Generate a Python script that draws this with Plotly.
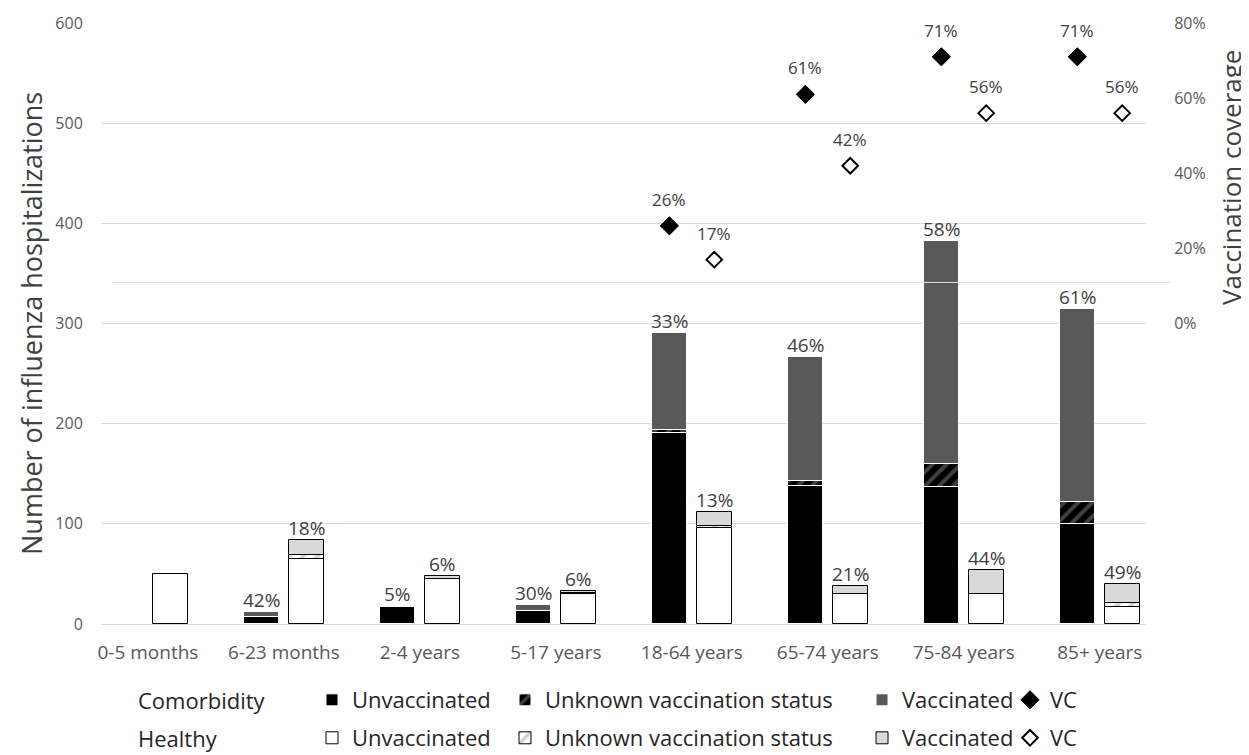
import plotly.graph_objects as go

# ---------------- data ----------------
categories = ["0-5 months", "6-23 months", "2-4 years", "5-17 years",
              "18-64 years", "65-74 years", "75-84 years", "85+ years"]

com_unvacc = [0, 7, 17, 13, 191, 138, 137, 100]
com_unknown = [0, 0, 0, 0, 3, 5, 23, 22]
com_vacc = [0, 5, 1, 6, 97, 124, 222, 192]

hea_unvacc = [50, 65, 45, 30, 96, 30, 30, 17]
hea_unknown = [0, 4, 0, 1, 2, 0, 0, 4]
hea_vacc = [0, 15, 3, 2, 14, 8, 24, 19]

com_bar_labels = ["", "42%", "5%", "30%", "33%", "46%", "58%", "61%"]
hea_bar_labels = ["", "18%", "6%", "6%", "13%", "21%", "44%", "49%"]

vc_categories = ["18-64 years", "65-74 years", "75-84 years", "85+ years"]
com_vc = [0.26, 0.61, 0.71, 0.71]
hea_vc = [0.17, 0.42, 0.56, 0.56]

# ---------------- layout helpers ----------------
W, H = 1249, 755
PAGE = 8  # page body margin offset
ML, MR, MT, MB = 101 - PAGE, 1249 - (1146 - PAGE), 23 - PAGE, 755 - (624 - PAGE)
OFF = 0.165
BW = 0.26
FONT = "Open Sans"
TXT = "#404040"
AX = "#595959"
GRID = "#d9d9d9"

idx = {c: i for i, c in enumerate(categories)}
xc = [i - OFF for i in range(len(categories))]
xh = [i + OFF for i in range(len(categories))]
xvc_c = [idx[c] - OFF for c in vc_categories]
xvc_h = [idx[c] + OFF for c in vc_categories]


def nz(vals):
    return [v if v else None for v in vals]


fig = go.Figure()

# comorbidity bars
fig.add_trace(go.Bar(x=xc, y=nz(com_unvacc), width=BW, name="Unvaccinated",
                     marker=dict(color="#000000", line=dict(color="white", width=1)),
                     legend="legend"))
fig.add_trace(go.Bar(x=xc, y=nz(com_unknown), width=BW, name="Unknown vaccination status",
                     marker=dict(color="#000000", line=dict(color="white", width=1),
                                 pattern=dict(shape="/", bgcolor="#000000", fgcolor="#808080",
                                              size=10, solidity=0.4)),
                     legend="legend2"))
fig.add_trace(go.Bar(x=xc, y=nz(com_vacc), width=BW, name="Vaccinated",
                     marker=dict(color="#595959", line=dict(color="white", width=1)),
                     legend="legend3"))

# healthy bars
fig.add_trace(go.Bar(x=xh, y=nz(hea_unvacc), width=BW, name="Unvaccinated",
                     marker=dict(color="#ffffff", line=dict(color="black", width=1)),
                     legend="legend5"))
fig.add_trace(go.Bar(x=xh, y=nz(hea_unknown), width=BW, name="Unknown vaccination status",
                     marker=dict(color="#ffffff", line=dict(color="black", width=1),
                                 pattern=dict(shape="/", bgcolor="#ffffff", fgcolor="#a6a6a6",
                                              size=10, solidity=0.4)),
                     legend="legend6"))
fig.add_trace(go.Bar(x=xh, y=nz(hea_vacc), width=BW, name="Vaccinated",
                     marker=dict(color="#d9d9d9", line=dict(color="black", width=1)),
                     legend="legend7"))

# vaccination coverage diamonds
fig.add_trace(go.Scatter(x=xvc_c, y=com_vc, yaxis="y2", mode="markers", name="VC",
                         marker=dict(symbol="diamond", size=14, color="black",
                                     line=dict(color="black", width=1)),
                         legend="legend4"))
fig.add_trace(go.Scatter(x=xvc_h, y=hea_vc, yaxis="y2", mode="markers", name="VC",
                         marker=dict(symbol="diamond", size=12, color="white",
                                     line=dict(color="black", width=2)),
                         legend="legend8"))

annotations = []
# bar percentage labels
for i in range(len(categories)):
    tc = com_unvacc[i] + com_unknown[i] + com_vacc[i]
    th = hea_unvacc[i] + hea_unknown[i] + hea_vacc[i]
    if com_bar_labels[i]:
        annotations.append(dict(x=xc[i], y=tc, xref="x", yref="y", text=com_bar_labels[i],
                                showarrow=False, yanchor="bottom", yshift=-3,
                                font=dict(family=FONT, size=19, color=TXT)))
    if hea_bar_labels[i]:
        annotations.append(dict(x=xh[i], y=th, xref="x", yref="y", text=hea_bar_labels[i],
                                showarrow=False, yanchor="bottom", yshift=-3,
                                font=dict(family=FONT, size=19, color=TXT)))
# VC labels
for xs, vs in ((xvc_c, com_vc), (xvc_h, hea_vc)):
    for x, v in zip(xs, vs):
        annotations.append(dict(x=x, y=v, xref="x", yref="y2", text=f"{round(v*100)}%",
                                showarrow=False, yanchor="bottom", yshift=13,
                                font=dict(family=FONT, size=17, color=TXT)))


def px_x(px):
    return (px - PAGE - ML) / (W - ML - MR)


def px_y(py):
    return (H - MB - (py - PAGE)) / (H - MB - MT)


# axis titles
annotations.append(dict(x=px_x(31), y=px_y(324), xref="paper", yref="paper",
                        text="Number of influenza hospitalizations", textangle=-90,
                        showarrow=False, xanchor="center", yanchor="middle",
                        font=dict(family=FONT, size=27, color=TXT)))
annotations.append(dict(x=px_x(1231), y=px_y(178), xref="paper", yref="paper",
                        text="Vaccination coverage", textangle=-90, showarrow=False,
                        xanchor="center", yanchor="middle",
                        font=dict(family=FONT, size=26, color=TXT)))
# legend row labels
leg_rows = [700, 738]
for txt, py in zip(("Comorbidity", "Healthy"), leg_rows):
    annotations.append(dict(x=px_x(136), y=px_y(py), xref="paper", yref="paper",
                            text=txt, showarrow=False, xanchor="left", yanchor="middle",
                            font=dict(family=FONT, size=22, color="#262626")))

# legends: one per entry
leg_cols = [352, 545, 902, 1050]
legend_layout = {}
n = 1
for py in leg_rows:
    for pxx in leg_cols:
        key = "legend" if n == 1 else f"legend{n}"
        legend_layout[key] = dict(
            xref="container", yref="container",
            x=(pxx - PAGE - 40) / W, y=1 - (py - PAGE) / H, xanchor="left", yanchor="middle",
            bgcolor="rgba(0,0,0,0)", borderwidth=0,
            font=dict(family=FONT, size=22, color="#262626"),
        )
        n += 1

fig.update_layout(
    width=W, height=H,
    margin=dict(l=ML, r=MR, t=MT, b=MB, autoexpand=False),
    paper_bgcolor="white", plot_bgcolor="white",
    barmode="relative", bargap=0,
    showlegend=True,
    annotations=annotations,
    xaxis=dict(range=[-0.345, 7.34], tickvals=list(range(len(categories))),
               ticktext=categories, showgrid=False, zeroline=False, showline=False,
               ticks="outside", ticklen=11, tickcolor="rgba(0,0,0,0)", automargin=False,
               tickfont=dict(family=FONT, size=19, color=AX), fixedrange=True),
    yaxis=dict(range=[0, 600], dtick=100, showgrid=True, gridcolor=GRID, gridwidth=1,
               zeroline=True, zerolinecolor=GRID, zerolinewidth=1, showline=False,
               ticks="outside", ticklen=14, tickcolor="rgba(0,0,0,0)", automargin=False,
               tickfont=dict(family=FONT, size=16, color=AX)),
    yaxis2=dict(range=[-0.8, 0.8], overlaying="y", side="right",
                tickvals=[0, 0.2, 0.4, 0.6, 0.8], tickformat=".0%", automargin=False,
                showgrid=False, zeroline=False, showline=False,
                ticks="outside", ticklen=24, tickcolor="rgba(0,0,0,0)",
                tickfont=dict(family=FONT, size=16, color=AX)),
    shapes=[dict(type="line", xref="paper", yref="y", x0=px_x(112), x1=px_x(1170),
                 y0=341, y1=341, layer="above", line=dict(color="#e3e3e3", width=1))],
    **legend_layout,
)

fig.write_html("out.html")
